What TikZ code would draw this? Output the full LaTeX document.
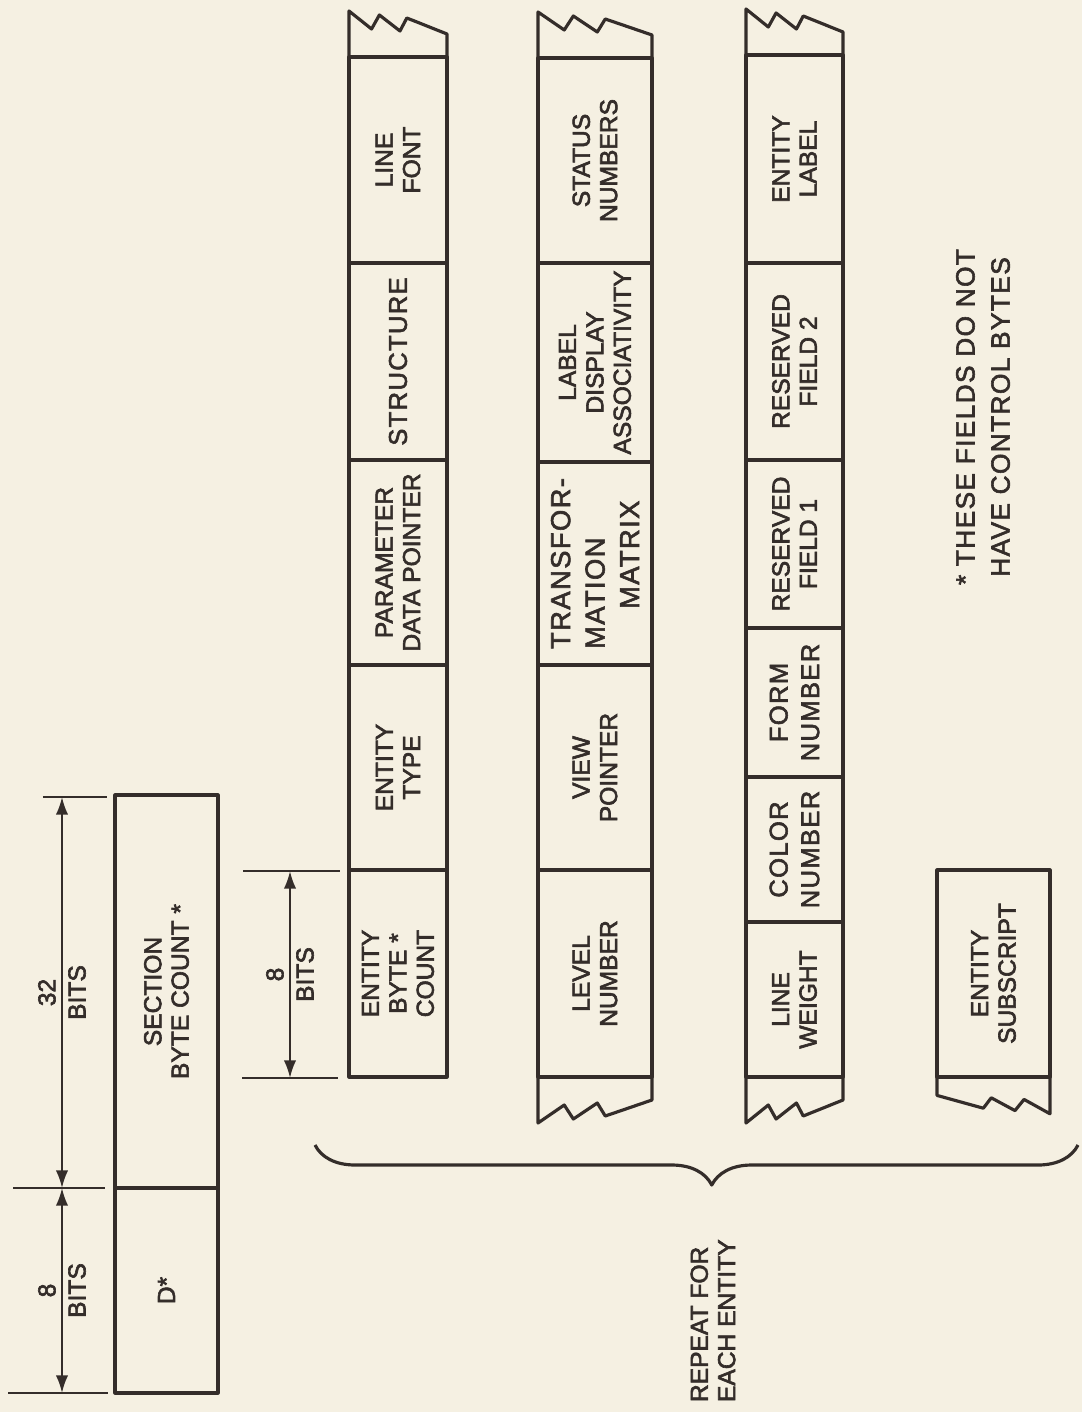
\documentclass[tikz,border=0pt]{standalone}
\usepackage{fontspec}
\setmainfont[FakeBold=2.5]{Liberation Sans}
\newfontfamily\widefont[LetterSpace=5,FakeBold=2.2]{Liberation Sans}
\usetikzlibrary{arrows.meta, decorations.pathreplacing}
\definecolor{ink}{RGB}{52,45,42}
\definecolor{paper}{RGB}{245,240,226}
\tikzset{
    field/.style={draw=ink, line width=0.9pt, line join=round},
    dimline/.style={draw=ink, line width=0.6pt},
    lbl/.style={rotate=90, text=ink, align=center, inner sep=1.5pt, font=\fontsize{7}{7.8}\selectfont},
    widelbl/.style={lbl, font=\widefont\fontsize{7.3}{9}\selectfont},
    torn/.pic={\draw[field] (0,0) -- (0,0.46) -- (0.23,0.28) -- (0.31,0.42) -- (0.52,0.26) -- (0.59,0.39) -- (1,0.23) -- (1,0);}
}

\begin{document}
\begin{tikzpicture}[>={Latex[length=5pt,width=3.5pt]}]
    \fill[paper] (0,0) rectangle (10.82,-14.12);
    \useasboundingbox (0,0) rectangle (10.82,-14.12);

    \draw[field] (1.15,-7.95) rectangle (2.18,-13.93);
    \draw[field] (1.15,-11.88) -- (2.18,-11.88);
    \node[lbl] (secbytes) at (1.665,-9.915) {SECTION\\BYTE COUNT *};
    \node[lbl] (dsect) at (1.665,-12.905) {D*};
    \draw[dimline] (0.43,-7.97) -- (1.07,-7.97);
    \draw[dimline] (0.13,-11.88) -- (1.05,-11.88);
    \draw[dimline] (0.08,-13.93) -- (1.08,-13.93);
    \draw[dimline, <->] (0.62,-7.97) -- node[lbl, above] (bitsa) {32} node[lbl, below] (bitsb) {BITS} (0.62,-11.88);
    \draw[dimline, <->] (0.62,-11.88) -- node[lbl, above] (bitsc) {8} node[lbl, below] (bitsd) {BITS} (0.62,-13.93);

    \draw[field] (3.49,-0.57) rectangle (4.47,-10.77);
    \foreach \y in {2.63,4.60,6.65,8.70} \draw[field] (3.49,-\y) -- (4.47,-\y);
    \pic[xscale=0.98] at (3.49,-0.57) {torn};
    \node[lbl] (linefont) at (3.98,-1.60) {LINE\\FONT};
    \node[widelbl] (structure) at (3.98,-3.615) {STRUCTURE};
    \node[lbl] (paramptr) at (3.98,-5.625) {PARAMETER\\DATA POINTER};
    \node[lbl] (enttype) at (3.98,-7.675) {ENTITY\\TYPE};
    \node[lbl] (entbytes) at (3.98,-9.735) {ENTITY\\BYTE *\\COUNT};
    \draw[dimline] (2.43,-8.71) -- (3.40,-8.71);
    \draw[dimline] (2.42,-10.78) -- (3.38,-10.78);
    \draw[dimline, <->] (2.90,-8.71) -- node[lbl, above] (bitse) {8} node[lbl, below] (bitsf) {BITS} (2.90,-10.78);

    \draw[field] (5.38,-0.58) rectangle (6.52,-10.77);
    \foreach \y in {2.63,4.62,6.65,8.70} \draw[field] (5.38,-\y) -- (6.52,-\y);
    \pic[xscale=1.14] at (5.38,-0.58) {torn};
    \pic[xscale=1.14, yscale=-1] at (5.38,-10.77) {torn};
    \node[lbl] (status) at (5.95,-1.605) {STATUS\\NUMBERS};
    \node[lbl] (labelassoc) at (5.95,-3.625) {LABEL\\DISPLAY\\ASSOCIATIVITY};
    \node[widelbl, align=left, font=\widefont\fontsize{7.8}{9.8}\selectfont] (transform) at (5.95,-5.635) {TRANSFOR-\\MATION\\\hspace*{0.4cm}MATRIX};
    \node[lbl] (viewptr) at (5.95,-7.675) {VIEW\\POINTER};
    \node[lbl] (level) at (5.95,-9.735) {LEVEL\\NUMBER};

    \draw[field] (7.46,-0.55) rectangle (8.43,-10.77);
    \foreach \y in {2.63,4.60,6.28,7.77,9.22} \draw[field] (7.46,-\y) -- (8.43,-\y);
    \pic[xscale=0.97] at (7.46,-0.55) {torn};
    \pic[xscale=0.97, yscale=-1] at (7.46,-10.77) {torn};
    \node[lbl] (entlabel) at (7.945,-1.59) {ENTITY\\LABEL};
    \node[lbl] (resfieldtwo) at (7.945,-3.615) {RESERVED\\FIELD 2};
    \node[lbl] (resfieldone) at (7.945,-5.44) {RESERVED\\FIELD 1};
    \node[widelbl] (formnum) at (7.945,-7.025) {FORM\\NUMBER};
    \node[widelbl] (colornum) at (7.945,-8.495) {COLOR\\NUMBER};
    \node[lbl] (lineweight) at (7.945,-9.995) {LINE\\WEIGHT};

    \draw[field] (9.37,-8.70) rectangle (10.50,-10.77);
    \pic[xscale=-1.13, yscale=-0.8] at (10.50,-10.77) {torn};
    \node[lbl] (subscript) at (9.935,-9.735) {ENTITY\\SUBSCRIPT};

    \draw[field, decorate, decoration={brace, amplitude=0.4cm, aspect=0.48}] (10.78,-11.45) -- (3.15,-11.45);
    \node[lbl, anchor=west, align=left] (repeat) at (7.13,-14.08) {REPEAT FOR\\EACH ENTITY};
    \node[widelbl, font=\widefont\fontsize{7.5}{10}\selectfont] (note) at (9.83,-4.17) {* THESE FIELDS DO NOT\\HAVE CONTROL BYTES};
\end{tikzpicture}
\end{document}
